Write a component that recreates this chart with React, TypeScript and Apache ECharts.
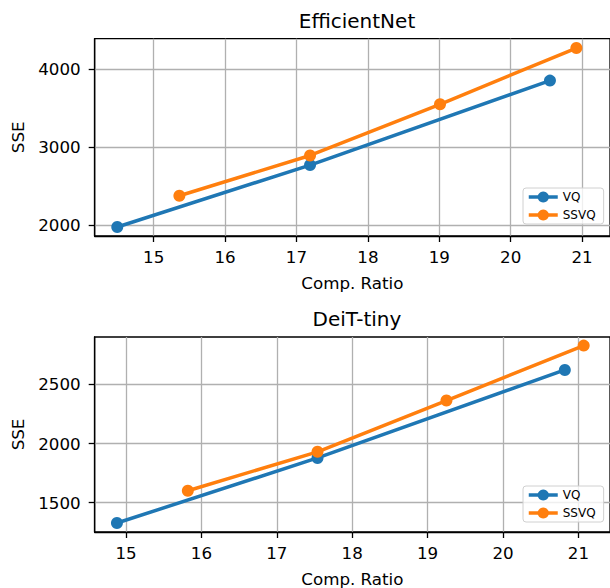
import React, { useEffect, useRef } from "react";
import * as echarts from "echarts";

const effXTicks = [15, 16, 17, 18, 19, 20, 21];
const effYTicks = [2000, 3000, 4000];
const deitXTicks = [15, 16, 17, 18, 19, 20, 21];
const deitYTicks = [1500, 2000, 2500];

const effVQx = [14.49, 17.19, 20.55];
const effVQy = [1975, 2770, 3855];
const effSSVQx = [15.36, 17.19, 19.01, 20.92];
const effSSVQy = [2376, 2893, 3551, 4273];

const deitVQx = [14.88, 17.54, 20.82];
const deitVQy = [1327, 1878, 2623];
const deitSSVQx = [15.82, 17.54, 19.25, 21.07];
const deitSSVQy = [1600, 1930, 2364, 2829];

const titles = ["EfficientNet", "DeiT-tiny"];
const seriesNames = ["VQ", "SSVQ"];
const colors = ["#1f77b4", "#ff7f0e"];

const FONT = "DejaVu Sans";

function zip(xs: number[], ys: number[]) {
  return xs.map((x, i) => [x, ys[i]]);
}

export default function App() {
  const ref = useRef<HTMLDivElement>(null);
  useEffect(() => {
    if (!ref.current) return;
    const chart = echarts.init(ref.current, null, { renderer: "svg" });
    const grids = [
      { left: 94.7, top: 38.7, width: 515.3, height: 197.3 },
      { left: 94.7, top: 337, width: 515.3, height: 197 },
    ];
    const xRanges = [
      [14.174, 21.391],
      [14.585, 21.419],
    ];
    const yRanges = [
      [1859, 4393],
      [1251, 2902],
    ];
    const xTicks = [effXTicks, deitXTicks];
    const yTicks = [effYTicks, deitYTicks];
    const axisCommon = {
      axisLine: { show: true, lineStyle: { color: "#000", width: 1.3 } },
      axisTick: { show: true, length: 6, lineStyle: { color: "#000", width: 1.3 } },
      splitLine: { show: true, lineStyle: { color: "#b0b0b0", width: 1.3 } },
    };
    const option: any = {
      animation: false,
      backgroundColor: "#fff",
      textStyle: { fontFamily: FONT },
      title: titles.map((t, i) => ({
        text: t,
        left: 352,
        textAlign: "center",
        top: i === 0 ? 6 : 304,
        textStyle: { fontFamily: FONT, fontSize: 20, fontWeight: "normal", color: "#000" },
      })),
      grid: grids.map((g) => ({
        ...g,
        show: true,
        borderColor: "#000",
        borderWidth: 1.3,
        backgroundColor: "transparent",
      })),
      xAxis: [0, 1].map((i) => ({
        type: "value",
        gridIndex: i,
        min: xRanges[i][0],
        max: xRanges[i][1],
        name: "Comp. Ratio",
        nameLocation: "middle",
        nameGap: 38,
        nameTextStyle: { fontFamily: FONT, fontSize: 16.7, color: "#000" },
        ...axisCommon,
        axisTick: { ...axisCommon.axisTick, customValues: xTicks[i] },
        axisLabel: {
          customValues: xTicks[i],
          formatter: (v: number) => String(v),
          margin: 12,
          fontFamily: FONT,
          fontSize: 16.7,
          color: "#000",
        },
      })),
      yAxis: [0, 1].map((i) => ({
        type: "value",
        gridIndex: i,
        min: yRanges[i][0],
        max: yRanges[i][1],
        name: "SSE",
        nameLocation: "middle",
        nameRotate: 90,
        nameGap: 68,
        nameTextStyle: { fontFamily: FONT, fontSize: 16.7, color: "#000" },
        ...axisCommon,
        axisTick: { ...axisCommon.axisTick, customValues: yTicks[i] },
        axisLabel: {
          customValues: yTicks[i],
          formatter: (v: number) => String(v),
          margin: 14,
          fontFamily: FONT,
          fontSize: 16.7,
          color: "#000",
        },
      })),
      legend: [0, 1].map((i) => ({
        data: seriesNames,
        orient: "vertical",
        left: 523,
        top: i === 0 ? 188 : 486,
        itemWidth: 29,
        itemHeight: 14,
        itemGap: 6,
        itemSymbolSize: 12,
        padding: [3, 8, 3, 4],
        borderColor: "#d0d0d0",
        borderWidth: 1,
        borderRadius: 3,
        backgroundColor: "rgba(255,255,255,0.8)",
        selectedMode: false,
        lineStyle: { width: 3.5 },
        textStyle: { fontFamily: FONT, fontSize: 12, color: "#000" },
      })),
      series: [
        { name: "VQ", xAxisIndex: 0, yAxisIndex: 0, data: zip(effVQx, effVQy), color: colors[0] },
        { name: "SSVQ", xAxisIndex: 0, yAxisIndex: 0, data: zip(effSSVQx, effSSVQy), color: colors[1] },
        { name: "VQ", xAxisIndex: 1, yAxisIndex: 1, data: zip(deitVQx, deitVQy), color: colors[0] },
        { name: "SSVQ", xAxisIndex: 1, yAxisIndex: 1, data: zip(deitSSVQx, deitSSVQy), color: colors[1] },
      ].map((s) => ({
        ...s,
        type: "line",
        symbol: "circle",
        symbolSize: 12,
        showAllSymbol: true,
        lineStyle: { width: 3.5, color: s.color },
        itemStyle: { color: s.color },
        emphasis: { disabled: true },
      })),
    };
    chart.setOption(option);
    return () => chart.dispose();
  }, []);
  return (
    <div
      ref={ref}
      style={{ position: "fixed", left: 0, top: 0, width: 610, height: 588 }}
    />
  );
}
